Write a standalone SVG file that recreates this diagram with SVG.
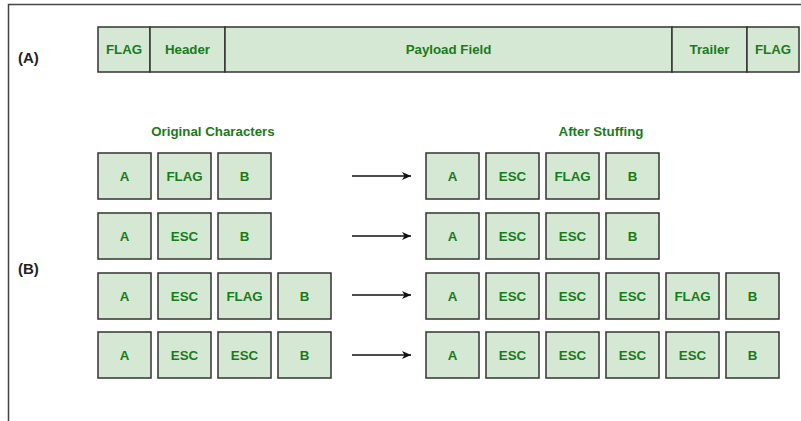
<svg xmlns="http://www.w3.org/2000/svg" width="801" height="421" viewBox="0 0 801 421">
<defs>
<style>
.b{fill:#d5e8d4;stroke:#333;stroke-width:1.5}
.t{font-family:"Liberation Sans",Arial,sans-serif;font-weight:bold;font-size:13.3px;fill:#1a7a1a;text-anchor:middle;dominant-baseline:central}
.l{font-family:"Liberation Sans",Arial,sans-serif;font-weight:bold;font-size:15px;fill:#222;dominant-baseline:central}
.c{stroke:#111;stroke-width:1.3;fill:none}
</style>
<marker id="ah" markerWidth="12" markerHeight="12" refX="9" refY="6" orient="auto" markerUnits="userSpaceOnUse">
<path d="M0,2 L9,6 L0,10 L2.5,6 Z" fill="#111"/>
</marker>
</defs>
<rect width="801" height="421" fill="#fff"/>
<path d="M8.5,421 V4.5 H801" fill="none" stroke="#444" stroke-width="1.5"/>
<text class="l" x="18" y="57">(A)</text>
<text class="l" x="18" y="268">(B)</text>
<g id="frame">
<rect class="b" x="98" y="27" width="52" height="45"/><text class="t" x="124" y="49">FLAG</text>
<rect class="b" x="150" y="27" width="75" height="45"/><text class="t" x="187.5" y="49">Header</text>
<rect class="b" x="225" y="27" width="447" height="45"/><text class="t" x="448.5" y="49">Payload Field</text>
<rect class="b" x="672" y="27" width="75" height="45"/><text class="t" x="709.5" y="49">Trailer</text>
<rect class="b" x="747" y="27" width="52" height="45"/><text class="t" x="773" y="49">FLAG</text>
</g>
<text class="t" x="213" y="131">Original Characters</text>
<text class="t" x="601" y="131">After Stuffing</text>
<g id="orig1">
<rect class="b" x="98" y="153" width="53" height="46"/><text class="t" x="124.5" y="176">A</text>
<rect class="b" x="158" y="153" width="53" height="46"/><text class="t" x="184.5" y="176">FLAG</text>
<rect class="b" x="218" y="153" width="53" height="46"/><text class="t" x="244.5" y="176">B</text>
</g>
<g id="orig2">
<rect class="b" x="98" y="213" width="53" height="46"/><text class="t" x="124.5" y="236">A</text>
<rect class="b" x="158" y="213" width="53" height="46"/><text class="t" x="184.5" y="236">ESC</text>
<rect class="b" x="218" y="213" width="53" height="46"/><text class="t" x="244.5" y="236">B</text>
</g>
<g id="orig3">
<rect class="b" x="98" y="273" width="53" height="46"/><text class="t" x="124.5" y="296">A</text>
<rect class="b" x="158" y="273" width="53" height="46"/><text class="t" x="184.5" y="296">ESC</text>
<rect class="b" x="218" y="273" width="53" height="46"/><text class="t" x="244.5" y="296">FLAG</text>
<rect class="b" x="278" y="273" width="53" height="46"/><text class="t" x="304.5" y="296">B</text>
</g>
<g id="orig4">
<rect class="b" x="98" y="332" width="53" height="46"/><text class="t" x="124.5" y="355">A</text>
<rect class="b" x="158" y="332" width="53" height="46"/><text class="t" x="184.5" y="355">ESC</text>
<rect class="b" x="218" y="332" width="53" height="46"/><text class="t" x="244.5" y="355">ESC</text>
<rect class="b" x="278" y="332" width="53" height="46"/><text class="t" x="304.5" y="355">B</text>
</g>
<g id="stuf1">
<rect class="b" x="426" y="153" width="53" height="46"/><text class="t" x="452.5" y="176">A</text>
<rect class="b" x="486" y="153" width="53" height="46"/><text class="t" x="512.5" y="176">ESC</text>
<rect class="b" x="546" y="153" width="53" height="46"/><text class="t" x="572.5" y="176">FLAG</text>
<rect class="b" x="606" y="153" width="53" height="46"/><text class="t" x="632.5" y="176">B</text>
</g>
<g id="stuf2">
<rect class="b" x="426" y="213" width="53" height="46"/><text class="t" x="452.5" y="236">A</text>
<rect class="b" x="486" y="213" width="53" height="46"/><text class="t" x="512.5" y="236">ESC</text>
<rect class="b" x="546" y="213" width="53" height="46"/><text class="t" x="572.5" y="236">ESC</text>
<rect class="b" x="606" y="213" width="53" height="46"/><text class="t" x="632.5" y="236">B</text>
</g>
<g id="stuf3">
<rect class="b" x="426" y="273" width="53" height="46"/><text class="t" x="452.5" y="296">A</text>
<rect class="b" x="486" y="273" width="53" height="46"/><text class="t" x="512.5" y="296">ESC</text>
<rect class="b" x="546" y="273" width="53" height="46"/><text class="t" x="572.5" y="296">ESC</text>
<rect class="b" x="606" y="273" width="53" height="46"/><text class="t" x="632.5" y="296">ESC</text>
<rect class="b" x="666" y="273" width="53" height="46"/><text class="t" x="692.5" y="296">FLAG</text>
<rect class="b" x="726" y="273" width="53" height="46"/><text class="t" x="752.5" y="296">B</text>
</g>
<g id="stuf4">
<rect class="b" x="426" y="332" width="53" height="46"/><text class="t" x="452.5" y="355">A</text>
<rect class="b" x="486" y="332" width="53" height="46"/><text class="t" x="512.5" y="355">ESC</text>
<rect class="b" x="546" y="332" width="53" height="46"/><text class="t" x="572.5" y="355">ESC</text>
<rect class="b" x="606" y="332" width="53" height="46"/><text class="t" x="632.5" y="355">ESC</text>
<rect class="b" x="666" y="332" width="53" height="46"/><text class="t" x="692.5" y="355">ESC</text>
<rect class="b" x="726" y="332" width="53" height="46"/><text class="t" x="752.5" y="355">B</text>
</g>
<g id="connectors">
<line class="c" x1="352" y1="176" x2="411" y2="176" marker-end="url(#ah)"/>
<line class="c" x1="352" y1="236" x2="411" y2="236" marker-end="url(#ah)"/>
<line class="c" x1="352" y1="295" x2="411" y2="295" marker-end="url(#ah)"/>
<line class="c" x1="352" y1="355" x2="411" y2="355" marker-end="url(#ah)"/>
</g>
</svg>
